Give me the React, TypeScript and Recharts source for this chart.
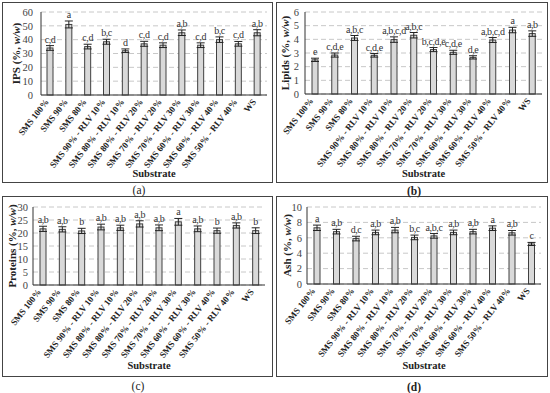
import React from "react";
import { BarChart, Bar, XAxis, YAxis, CartesianGrid, ErrorBar, Label } from "recharts";

const categories = [
  "SMS 100%", "SMS 90%", "SMS 80%", "SMS 90% - RLV 10%", "SMS 80% - RLV 10%",
  "SMS 80% - RLV 20%", "SMS 70% - RLV 20%", "SMS 70% - RLV 30%", "SMS 60% - RLV 30%",
  "SMS 60% - RLV 40%", "SMS 50% - RLV 40%", "WS",
];

const ipsValues = [34, 51, 35, 38.5, 32, 37, 36, 45, 36, 40, 37, 45];
const ipsErr = [1.7, 2.5, 1.7, 1.8, 1.3, 1.8, 1.7, 2, 1.7, 2, 1.7, 2.2];
const ipsLetters = ["c,d", "a", "c,d", "b,c", "d", "c,d", "c,d", "a,b", "c,d", "b,c", "c,d", "a,b"];
const ipsTicks = [0, 10, 20, 30, 40, 50, 60];

const lipidValues = [2.5, 2.85, 4.1, 2.83, 3.98, 4.3, 3.25, 3.05, 2.68, 3.95, 4.68, 4.42];
const lipidErr = [0.12, 0.15, 0.18, 0.13, 0.2, 0.2, 0.15, 0.15, 0.12, 0.18, 0.2, 0.2];
const lipidLetters = ["e", "c,d,e", "a,b,c", "c,d,e", "a,b,c,d", "a,b,c", "b,c,d,e", "c,d,e", "d,e", "a,b,c,d", "a", "a,b"];
const lipidTicks = [0, 1, 2, 3, 4, 5, 6];

const proteinValues = [21.6, 21.4, 20.8, 22.3, 22, 23.5, 22, 24.3, 21.6, 20.9, 22.9, 20.9];
const proteinErr = [1, 1, 1, 1.1, 1, 1.2, 1.1, 1.3, 1.1, 1, 1, 1.1];
const proteinLetters = ["a,b", "a,b", "b", "a,b", "a,b", "a,b", "a,b", "a", "a,b", "b", "a,b", "b"];
const proteinTicks = [0, 5, 10, 15, 20, 25, 30];

const ashValues = [7.3, 6.8, 5.9, 6.7, 7.0, 6.05, 6.25, 6.7, 6.8, 7.25, 6.65, 5.2];
const ashErr = [0.35, 0.3, 0.3, 0.3, 0.35, 0.3, 0.3, 0.3, 0.3, 0.3, 0.3, 0.2];
const ashLetters = ["a", "a,b", "d,c", "a,b", "a,b", "b,c", "a,b,c", "a,b", "a,b", "a", "a,b", "c"];
const ashTicks = [0, 2, 4, 6, 8, 10];

const FONT = "'Liberation Serif', 'DejaVu Serif', serif";

const XTick = (props: any) => {
  const { x, y, payload } = props;
  const ax = x - 1;
  const ay = y + 7;
  return (
    <text x={ax} y={ay} transform={`rotate(-52 ${ax} ${ay})`} textAnchor="end"
      fontSize={9} fontWeight="bold" fontFamily={FONT} fill="#222">
      {payload.value}
    </text>
  );
};

const BarShape = (props: any) => {
  const { x, y, width, height, payload } = props;
  const errPx = payload.value ? (payload.err * height) / payload.value : 0;
  return (
    <g>
      <rect x={x} y={y} width={width} height={height} fill="#d9d9d9" stroke="#404040" strokeWidth={1} />
      <text x={x + width / 2} y={y - errPx - 3} textAnchor="middle" fontSize={10}
        letterSpacing={-0.4} fontFamily={FONT} fill="#333">{payload.letter}</text>
    </g>
  );
};

function Panel(cfg: any) {
  const data = categories.map((c, i) => ({
    name: c, value: cfg.values[i], err: cfg.errs[i], letter: cfg.letters[i],
  }));
  const plotH = cfg.h - cfg.margin.top - cfg.margin.bottom - cfg.xh;
  const cy = cfg.margin.top + plotH / 2;
  const domain = [cfg.ticks[0], cfg.ticks[cfg.ticks.length - 1]];
  return (
    <div style={{ position: "absolute", left: cfg.x, top: cfg.y }}>
      <BarChart width={cfg.w} height={cfg.h} data={data} margin={cfg.margin}>
        <CartesianGrid vertical={false} stroke="#c8c8c8" strokeDasharray="5 3" />
        <XAxis dataKey="name" interval={0} tickLine={false} tickSize={0} tickMargin={0}
          axisLine={{ stroke: "#333" }} height={cfg.xh} tick={<XTick />}>
          <Label value="Substrate" position="insideBottom" offset={cfg.subOff}
            style={{ fontWeight: "bold", fontSize: 10.5, fontFamily: FONT, fill: "#222" }} />
        </XAxis>
        <XAxis xAxisId="top" orientation="top" dataKey="name" height={0} tick={false}
          tickLine={false} axisLine={{ stroke: "#333" }} />
        <YAxis domain={domain} ticks={cfg.ticks} width={cfg.yw} tickLine={false} tickSize={0}
          tickMargin={cfg.tm} interval={0} axisLine={{ stroke: "#333" }}
          tick={{ fontSize: 10.5, fill: "#444", fontFamily: FONT }}>
          <Label content={() => (
            <text x={cfg.ylx} y={cy} transform={`rotate(-90 ${cfg.ylx} ${cy})`} textAnchor="middle"
              dominantBaseline="central" fontWeight="bold" fontSize={11} fontFamily={FONT} fill="#222">
              {cfg.yLabel} (%, <tspan fontStyle="italic">w/w</tspan>)
            </text>
          )} />
        </YAxis>
        <YAxis yAxisId="right" orientation="right" width={0} domain={domain} tick={false}
          tickLine={false} axisLine={{ stroke: "#333" }} />
        <Bar dataKey="value" barSize={6} isAnimationActive={false} shape={<BarShape />}>
          <ErrorBar dataKey="err" width={4} stroke="#222" strokeWidth={1} />
        </Bar>
      </BarChart>
    </div>
  );
}

const boxStyle = (left: number, top: number, width: number, height: number): React.CSSProperties => ({
  position: "absolute", left, top, width, height, boxSizing: "border-box", border: "1px solid #444",
});

const capStyle = (left: number, top: number, bold: boolean): React.CSSProperties => ({
  position: "absolute", left: left - 20, top, width: 40, textAlign: "center",
  fontFamily: FONT, fontSize: 11.5, fontWeight: bold ? "bold" : "normal", color: "#222", lineHeight: "12px",
});

export default function App() {
  return (
    <div style={{ position: "fixed", left: 0, top: 0, width: 550, height: 393, background: "#fff", overflow: "hidden" }}>
      <div style={boxStyle(2, 2, 271, 181)} />
      <div style={boxStyle(276, 2, 272, 181)} />
      <div style={boxStyle(2, 196, 271, 181)} />
      <div style={boxStyle(276, 196, 272, 181)} />
      <Panel x={0} y={0} w={275} h={195} yw={25} xh={100} tm={8} subOff={18} ylx={16}
        margin={{ top: 12, right: 8, left: 16, bottom: 0 }} values={ipsValues} errs={ipsErr}
        letters={ipsLetters} ticks={ipsTicks} yLabel="IPS" />
      <Panel x={275} y={0} w={275} h={195} yw={20} xh={101} tm={6} subOff={18} ylx={10}
        margin={{ top: 12, right: 8, left: 10, bottom: 0 }} values={lipidValues} errs={lipidErr}
        letters={lipidLetters} ticks={lipidTicks} yLabel="Lipids" />
      <Panel x={0} y={195} w={275} h={198} yw={20} xh={108} tm={5} subOff={24} ylx={12}
        margin={{ top: 12, right: 10, left: 13, bottom: 0 }} values={proteinValues} errs={proteinErr}
        letters={proteinLetters} ticks={proteinTicks} yLabel="Proteins" />
      <Panel x={275} y={195} w={275} h={198} yw={20} xh={109} tm={5} subOff={24} ylx={12}
        margin={{ top: 12, right: 9, left: 12, bottom: 0 }} values={ashValues} errs={ashErr}
        letters={ashLetters} ticks={ashTicks} yLabel="Ash" />
      <div style={capStyle(139, 184, false)}>(a)</div>
      <div style={capStyle(414, 185, true)}>(b)</div>
      <div style={capStyle(138, 380, false)}>(c)</div>
      <div style={capStyle(414, 381, true)}>(d)</div>
    </div>
  );
}
